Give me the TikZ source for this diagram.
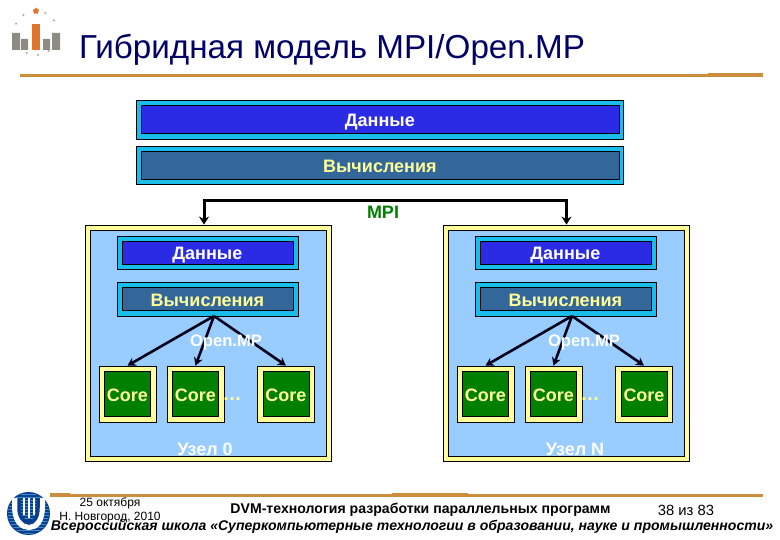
\documentclass[tikz,border=0pt]{standalone}
\usepackage{fontspec}
\setmainfont{Liberation Sans}
\usetikzlibrary{arrows.meta,shapes.geometric}
\definecolor{TitleInk}{HTML}{000066}
\definecolor{Rule}{HTML}{CC8E3E}
\definecolor{LogoOrange}{HTML}{E0752F}
\definecolor{LogoGray}{HTML}{8C8C84}
\definecolor{Frame}{HTML}{19BDEC}
\definecolor{DataBlue}{HTML}{2B2BE6}
\definecolor{CalcBlue}{HTML}{336699}
\definecolor{NodeBlue}{HTML}{99CCFF}
\definecolor{Pale}{HTML}{FFFF99}
\definecolor{CoreGreen}{HTML}{008000}
\definecolor{UnnBlue}{HTML}{0A3F8C}
\definecolor{UnnStripe}{HTML}{3C8CD2}
\tikzset{
  outerbox/.style={draw=black,line width=0.8pt,fill=Frame,anchor=north west,inner sep=0pt},
  databox/.style={draw=black,line width=0.8pt,fill=DataBlue,text=white,font=\fontsize{18}{20}\selectfont\bfseries,inner sep=0pt,text height=14pt,text depth=0pt},
  calcbox/.style={draw=black,line width=0.8pt,fill=CalcBlue,text=Pale,font=\fontsize{18}{20}\selectfont\bfseries,inner sep=0pt,text height=14pt,text depth=0pt},
  nodebox/.style={draw=black,line width=0.8pt,fill=Pale,minimum width=246pt,minimum height=236pt,inner sep=0pt},
  nodeinner/.style={draw=black,line width=0.8pt,fill=NodeBlue,minimum width=236pt,minimum height=226pt,inner sep=0pt},
  coreouter/.style={draw=black,line width=0.8pt,fill=Pale,minimum width=57pt,minimum height=56pt,inner sep=0pt},
  coreinner/.style={draw=black,line width=0.8pt,fill=CoreGreen,text=Pale,minimum width=46pt,minimum height=45pt,inner sep=0pt,font=\fontsize{18}{20}\selectfont\bfseries,text height=14pt,text depth=0pt},
  arr/.style={-{Stealth[length=8pt,width=10pt]},draw=black,line width=3pt},
  corearr/.style={-{Stealth[length=8pt,width=9pt]},draw=black!90!blue,line width=2.6pt},
  lbl/.style={text=white,font=\fontsize{18}{20}\selectfont\bfseries,inner sep=0pt},
  rule/.style={draw=Rule,line width=3pt},
  foot/.style={text=black,inner sep=0pt}
}
\begin{document}
\begin{tikzpicture}[x=1pt,y=-1pt]
  \useasboundingbox (0,0) rectangle (780,540);
  % logo
  \foreach \a in {20,50,...,340}
    \fill[LogoGray!70] ({36+22*cos(\a+5)},{33+22*sin(\a+5)}) circle (1.2pt);
  \fill[LogoGray] (12,33) rectangle (20,50) (21,39) rectangle (28,50) (43,39) rectangle (50,50) (52,33) rectangle (60,50);
  \fill[LogoOrange] (32,24) rectangle (40,50);
  \node[star,star points=5,fill=LogoOrange,minimum size=7pt,inner sep=0pt] (logostar) at (36,11) {};
  % title
  \node[text=TitleInk,anchor=west,inner sep=0pt,font=\fontsize{33.2}{36}\selectfont] (title) at (79,50) {Гибридная модель MPI/Open.MP};
  \draw[rule] (20,76) -- (708,76);
  \draw[rule] (252,75.5) -- (360,75.5);
  \draw[rule,line width=4pt] (708,75) -- (763,75);
  % cluster level
  \node[outerbox,minimum width=487pt,minimum height=39pt] (dataTop) at (136,100) {};
  \node[databox,minimum width=478pt,minimum height=28pt] (dataTopIn) at (dataTop.center) {Данные};
  \node[outerbox,minimum width=487pt,minimum height=38pt] (calcTop) at (136,146) {};
  \node[calcbox,minimum width=478pt,minimum height=28pt] (calcTopIn) at (calcTop.center) {Вычисления};
  % two hosts
  \foreach \id/\dx/\cap/\capx in {L/0/Узел 0/205,R/358/Узел N/217} {
    \begin{scope}[xshift=\dx pt]
      \node[nodebox] (host\id) at (208.5,343) {};
      \node[nodeinner] (hostIn\id) at (host\id.center) {};
      \node[outerbox,minimum width=181pt,minimum height=33pt] (data\id) at (116.5,236) {};
      \node[databox,minimum width=171pt,minimum height=23pt] (dataIn\id) at (data\id.center) {Данные};
      \node[outerbox,minimum width=181pt,minimum height=34pt] (calc\id) at (116.5,282) {};
      \node[calcbox,minimum width=171pt,minimum height=23pt] (calcIn\id) at (calc\id.center) {Вычисления};
      \node[coreouter] (coreA\id) at (127.5,394) {};
      \node[coreinner] (coreAIn\id) at (coreA\id.center) {Core};
      \node[coreouter] (coreB\id) at (195.5,394) {};
      \node[coreinner] (coreBIn\id) at (coreB\id.center) {Core};
      \node[coreouter] (coreC\id) at (286,394) {};
      \node[coreinner] (coreCIn\id) at (coreC\id.center) {Core};
      \coordinate (fork\id) at (214,316);
      \draw[corearr] (fork\id) -- (coreA\id.north);
      \draw[corearr] (fork\id) -- (coreB\id.north);
      \draw[corearr] (fork\id) -- (coreC\id.north);
      \node[lbl,font=\fontsize{16.6}{20}\selectfont\bfseries] (omp\id) at (226,342) {Open.MP};
      \node[text=Pale,inner sep=0pt,font=\fontsize{19}{20}\selectfont\bfseries] (dots\id) at (232,399) {…};
      \node[lbl] (cap\id) at (\capx,449) {\cap};
    \end{scope}
  }
  % MPI link
  \coordinate (bus) at (385,201);
  \draw[arr] (bus) -| ([xshift=-4.5pt]hostL.north);
  \draw[arr] (bus) -| (hostR.north);
  \node[text=CoreGreen,inner sep=0pt,font=\fontsize{18}{20}\selectfont\bfseries] (mpi) at (383,212) {MPI};
  % footer
  \fill[UnnBlue] (28.5,513.5) circle (21.5pt);
  \begin{scope}
    \clip (28.5,513.5) circle (20.5pt);
    \foreach \y in {494,497,...,534}
      \draw[UnnStripe,line width=1pt] (5,\y) -- (52,\y);
  \end{scope}
  \draw[white,line width=8pt] (16,498) -- (16,506) .. controls (16,520) and (22,526) .. (29,526) .. controls (36,526) and (41,520) .. (41,506) -- (41,498);
  \draw[UnnBlue,line width=3.5pt] (19,498) -- (19,508) .. controls (19,517) and (24,523) .. (29,523) .. controls (34,523) and (38,517) .. (38,508) -- (38,498);
  \foreach \x/\b in {24/515,29/518,34/515}
    \draw[white,line width=2pt] (\x,498) -- (\x,\b);
  \draw[rule] (50,495) -- (763,495);
  \draw[rule] (50,494.5) -- (70,494.5);
  \draw[rule] (392,494.5) -- (468,494.5);
  \node[foot,font=\fontsize{12}{14}\selectfont] (date) at (110,503) {25 октября};
  \node[foot,font=\fontsize{12}{14}\selectfont] (place) at (110,518) {Н. Новгород, 2010};
  \node[foot,font=\fontsize{14.1}{15}\selectfont\bfseries] (course) at (420.5,510) {DVM-технология разработки параллельных программ};
  \node[foot,font=\fontsize{14.8}{15}\selectfont] (page) at (686,510) {38 из 83};
  \node[foot,font=\fontsize{14.05}{15}\selectfont\bfseries\itshape] (school) at (412,527) {Всероссийская школа «Суперкомпьютерные технологии в образовании, науке и промышленности»};
\end{tikzpicture}
\end{document}
